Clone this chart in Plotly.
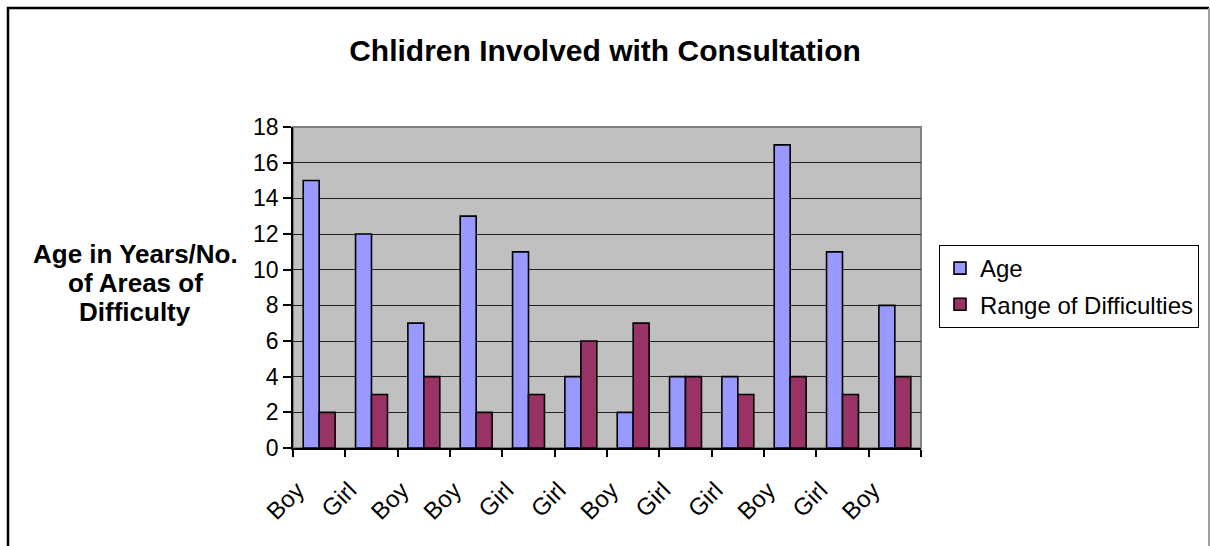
import plotly.graph_objects as go

categories = ["Boy", "Girl", "Boy", "Boy", "Girl", "Girl", "Boy", "Girl", "Girl", "Boy", "Girl", "Boy"]
age = [15, 12, 7, 13, 11, 4, 2, 4, 4, 17, 11, 8]
difficulties = [2, 3, 4, 2, 3, 6, 7, 4, 3, 4, 3, 4]
y_ticks = list(range(0, 19, 2))

xpos = list(range(len(categories)))
FONT = "Arial, Liberation Sans, sans-serif"

fig = go.Figure()
fig.add_trace(go.Bar(x=xpos, y=age, name="Age", legendgroup="a",
                     marker=dict(color="#9999FF", line=dict(color="black", width=1.6))))
fig.add_trace(go.Bar(x=xpos, y=difficulties, name="Range of Difficulties", legendgroup="b",
                     marker=dict(color="#993366", line=dict(color="black", width=1.6))))

L, R, T, B = 293, 289, 127, 98
W, H = 1210, 546
pw, ph = W - L - R, H - T - B

def px(xp):
    return (xp - L) / pw

def py(yp):
    return (H - B - yp) / ph

fig.update_layout(
    width=W, height=H,
    margin=dict(l=L, r=R, t=T, b=B, pad=0, autoexpand=False),
    paper_bgcolor="white",
    plot_bgcolor="#C0C0C0",
    barmode="group", bargap=0.39, bargroupgap=0,
    font=dict(family=FONT, color="black", size=22),
    title=dict(text="<b>Chlidren Involved with Consultation</b>", x=0.5, xanchor="center",
               y=1 - 50 / H, yanchor="middle", font=dict(size=30, family=FONT)),
    showlegend=True,
    legend=dict(x=px(939), y=py(245), xanchor="left", yanchor="top",
                bordercolor="black", borderwidth=1, bgcolor="white",
                font=dict(size=24, family=FONT), tracegroupgap=2,
                itemwidth=30),
    xaxis=dict(range=[-0.5, 11.5], tickmode="array", tickvals=xpos, ticktext=categories,
               tickangle=-45, ticks="", showgrid=False, zeroline=False,
               showline=True, linecolor="black", linewidth=1.5,
               tickfont=dict(size=24, family=FONT),
               ticklabelstandoff=17, ticklabelshift=-22,
               minor=dict(tickmode="array", tickvals=[i - 0.5 for i in range(13)],
                          ticks="outside", ticklen=7, tickcolor="black", tickwidth=1.5,
                          showgrid=False)),
    yaxis=dict(range=[0, 18], tickmode="array", tickvals=y_ticks,
               ticks="outside", ticklen=8, tickcolor="black", tickwidth=1.5,
               showgrid=True, gridcolor="#222222", gridwidth=1.2, zeroline=False,
               showline=True, linecolor="black", linewidth=1.5,
               tickfont=dict(size=23, family=FONT)),
)

# plot area border (top/right grey)
fig.add_shape(type="rect", xref="x domain", yref="y domain", x0=0, x1=1, y0=0, y1=1,
              line=dict(color="#808080", width=2), layer="below")

# outer chart border
fig.add_shape(type="path", xref="paper", yref="paper",
              path=f"M {px(8)},{py(600)} L {px(8)},{py(8)} L {px(1209)},{py(8)}",
              line=dict(color="black", width=2.5))
fig.add_shape(type="line", xref="paper", yref="paper",
              x0=px(1209), x1=px(1209), y0=py(8), y1=py(600),
              line=dict(color="#A0A0A0", width=2))

for text, yc in [("Age in Years/No.", 254), ("of Areas of", 283), ("Difficulty", 312)]:
    fig.add_annotation(text=f"<b>{text}</b>", xref="paper", yref="paper",
                       x=px(135), y=py(yc), xanchor="center", yanchor="middle",
                       showarrow=False, font=dict(size=26, family=FONT))

fig.write_html("out.html", config={"displayModeBar": False},
               post_script="document.body.style.margin='0px';document.body.style.padding='0px';")
